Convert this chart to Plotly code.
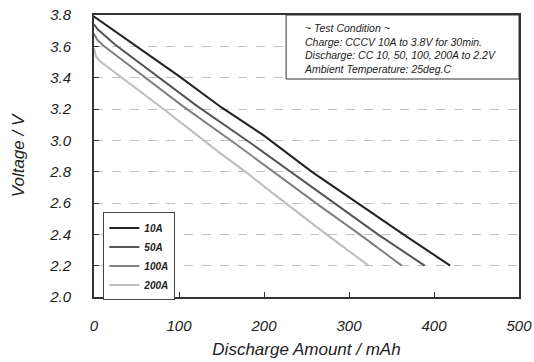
import plotly.graph_objects as go

# Data (mAh, V)
cap_10a = [0, 50, 100, 150, 200, 256, 307, 364, 419]
volt_10a = [3.79, 3.60, 3.41, 3.21, 3.03, 2.80, 2.61, 2.40, 2.20]

cap_50a = [0, 4, 25, 74, 121, 185, 229, 282, 334, 389]
volt_50a = [3.74, 3.71, 3.61, 3.41, 3.22, 2.98, 2.81, 2.60, 2.40, 2.20]

cap_100a = [0, 4, 12, 55, 104, 166, 211, 266, 315, 362]
volt_100a = [3.68, 3.64, 3.60, 3.42, 3.22, 2.98, 2.80, 2.58, 2.39, 2.20]

cap_200a = [0, 2, 6, 33, 84, 148, 178, 211, 266, 323]
volt_200a = [3.59, 3.54, 3.51, 3.40, 3.19, 2.92, 2.80, 2.66, 2.43, 2.20]

series_names = ["10A", "50A", "100A", "200A"]
series_colors = ["#222222", "#555555", "#808080", "#bdbdbd"]

y_ticks = [2.0, 2.2, 2.4, 2.6, 2.8, 3.0, 3.2, 3.4, 3.6, 3.8]
x_ticks = [0, 100, 200, 300, 400, 500]

condition_lines = [
    "~ Test Condition ~",
    "Charge: CCCV 10A to 3.8V for 30min.",
    "Discharge: CC 10, 50, 100, 200A to 2.2V",
    "Ambient Temperature: 25deg.C",
]

FONT = "Liberation Sans"

fig = go.Figure()
for name, xs, ys, col in zip(series_names,
                             [cap_10a, cap_50a, cap_100a, cap_200a],
                             [volt_10a, volt_50a, volt_100a, volt_200a],
                             series_colors):
    fig.add_trace(go.Scatter(x=xs, y=ys, mode="lines", name=f"<b>{name}</b>",
                             line=dict(color=col, width=2)))

fig.update_layout(
    width=534, height=362,
    margin=dict(l=94, r=15, t=15, b=65, autoexpand=False),
    paper_bgcolor="white", plot_bgcolor="white",
    font=dict(family=FONT, color="#222"),
    showlegend=True,
    legend=dict(x=0.022, y=0.30, xanchor="left", yanchor="top",
                bgcolor="white", bordercolor="#444", borderwidth=1,
                font=dict(size=10, family=FONT, color="#222", style="italic"),
                itemwidth=30, tracegroupgap=0),
    shapes=[dict(type="rect", xref="paper", yref="paper",
                 x0=0.452, x1=1.0, y0=0.773, y1=1.0,
                 line=dict(color="#333", width=1), fillcolor="white", layer="above")],
    annotations=[dict(
        xref="paper", yref="paper", x=0.489, y=0.983, xanchor="left", yanchor="top",
        text="<br>".join(condition_lines),
        showarrow=False, align="left",
        font=dict(size=10.5, family=FONT, color="#222", style="italic"),
    )],
)

fig.update_xaxes(
    range=[0, 500], tickvals=x_ticks, ticktext=[str(v) for v in x_ticks],
    ticks="inside", ticklen=5, tickcolor="#333", tickwidth=1,
    showline=True, linecolor="#333", linewidth=2, mirror=True,
    showgrid=False, zeroline=False, automargin=False,
    ticklabelstandoff=14,
    tickfont=dict(size=15, family=FONT, color="#222", style="italic"),
    title=dict(text="Discharge Amount / mAh", standoff=10,
               font=dict(size=17, family=FONT, color="#222", style="italic")),
)
fig.update_yaxes(
    range=[2.0, 3.8], tickvals=y_ticks, ticktext=[f"{v:.1f}" for v in y_ticks],
    ticks="inside", ticklen=5, tickcolor="#333", tickwidth=1,
    showline=True, linecolor="#333", linewidth=2, mirror=True,
    showgrid=True, gridcolor="#c0c0c0", gridwidth=1, griddash="dash",
    zeroline=False, automargin=False,
    ticklabelstandoff=18,
    tickfont=dict(size=15, family=FONT, color="#222", style="italic"),
    title=dict(text="Voltage / V", standoff=20,
               font=dict(size=17, family=FONT, color="#222", style="italic")),
)

fig.write_html("out.html", config={"displayModeBar": False},
               post_script="document.body.style.margin='0';")
